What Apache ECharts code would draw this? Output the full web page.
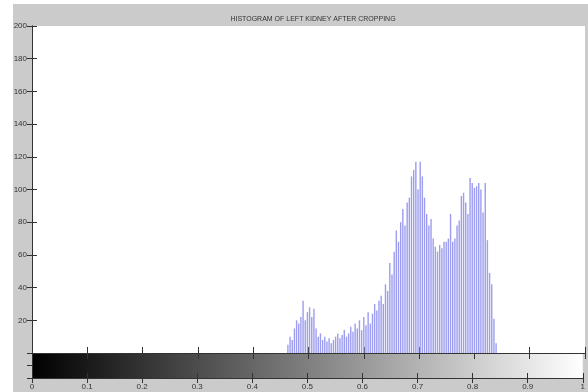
<!DOCTYPE html>
<html>
<head>
<meta charset="utf-8">
<script src="https://cdn.jsdelivr.net/npm/echarts@6/dist/echarts.min.js"></script>
<style>
html,body{margin:0;padding:0;background:#fff;}
#wrap{position:relative;width:588px;height:392px;background:#fff;}
#fig{position:absolute;left:13px;top:4px;right:0;bottom:0;background:#cbcbcb;}
#c{position:absolute;left:0;top:0;width:588px;height:392px;}
</style>
</head>
<body>
<div id="wrap"><div id="fig"></div><div id="c"></div></div>
<script>
// Histogram (imhist, 256 bins over 0..1): first non-empty bin index and counts
const titleText = 'HISTOGRAM OF LEFT KIDNEY AFTER CROPPING';
const binCount = 256;
const firstBin = 118;
const counts = [
  5, 10, 8, 15, 20, 18, 22, 32, 20, 25,
  28, 22, 27, 15, 10, 12, 8, 10, 7, 9,
  6, 8, 10, 12, 9, 11, 14, 10, 12, 16,
  13, 18, 15, 20, 14, 22, 17, 25, 18, 24,
  30, 26, 32, 35, 30, 42, 38, 55, 48, 62,
  75, 68, 80, 88, 78, 92, 95, 108, 112, 117,
  100, 117, 108, 95, 85, 78, 82, 70, 65, 62,
  66, 64, 68, 68, 70, 85, 68, 70, 78, 81,
  96, 98, 92, 85, 107, 104, 101, 102, 104, 100,
  86, 104, 69, 49, 42, 21, 6
];
const xTicks = [0, 0.1, 0.2, 0.3, 0.4, 0.5, 0.6, 0.7, 0.8, 0.9, 1];
const yTicks = [20, 40, 60, 80, 100, 120, 140, 160, 180, 200];

const histData = counts.map((v, k) => [(firstBin + k) / (binCount - 1), v]);

const chart = echarts.init(document.getElementById('c'), null, {renderer: 'canvas'});
const axisCol = '#333';
const lbl = {fontFamily: 'Liberation Sans Narrow, Arial Narrow, Liberation Sans, sans-serif', fontSize: 8, color: '#333'};
const xFmt = v => { const r = Math.round(v * 10) / 10; return xTicks.includes(r) ? String(r) : ''; };
const yFmt = v => yTicks.includes(v) ? String(v) : '';

chart.setOption({
  animation: false,
  backgroundColor: 'transparent',
  title: {
    text: titleText,
    left: 308, top: 11, textAlign: 'center',
    textStyle: {fontFamily: 'Liberation Sans Narrow, Arial Narrow, sans-serif', fontSize: 7, fontWeight: 'normal', color: '#333'}
  },
  grid: [
    {left: 32, right: 3, top: 26, height: 327, show: true, backgroundColor: '#fff', borderWidth: 0},
    {left: 32, right: 3, top: 353, height: 25, show: true, borderWidth: 0,
     backgroundColor: new echarts.graphic.LinearGradient(0, 0, 1, 0, [{offset: 0, color: '#000'}, {offset: 1, color: '#fff'}])}
  ],
  xAxis: [
    {gridIndex: 0, type: 'value', min: 0, max: 1, interval: 0.1, position: 'bottom',
     axisLine: {lineStyle: {color: axisCol}}, axisTick: {inside: true, length: 6, lineStyle: {color: axisCol}},
     axisLabel: {show: false}, splitLine: {show: false}},
    {gridIndex: 0, type: 'value', min: 0, max: 1, interval: 0.1, position: 'top',
     axisLine: {lineStyle: {color: axisCol}}, axisTick: {inside: true, length: 6, lineStyle: {color: axisCol}},
     axisLabel: {show: false}, splitLine: {show: false}},
    {gridIndex: 1, type: 'value', min: 0, max: 1, interval: 0.1, position: 'bottom',
     axisLine: {lineStyle: {color: axisCol}}, axisTick: {inside: true, length: 5, lineStyle: {color: axisCol}},
     axisLabel: Object.assign({margin: 5, formatter: xFmt}, lbl), splitLine: {show: false}},
    {gridIndex: 1, type: 'value', min: 0, max: 1, interval: 0.1, position: 'top',
     axisLine: {show: false}, axisTick: {inside: true, length: 5, lineStyle: {color: axisCol}},
     axisLabel: {show: false}, splitLine: {show: false}}
  ],
  yAxis: [
    {gridIndex: 0, type: 'value', min: 0, max: 200, interval: 20, position: 'left',
     axisLine: {show: true, lineStyle: {color: axisCol}}, axisTick: {show: true, inside: true, length: 5, lineStyle: {color: axisCol}},
     axisLabel: Object.assign({margin: 5, formatter: yFmt}, lbl), splitLine: {show: false}},
    {gridIndex: 0, type: 'value', min: 0, max: 200, interval: 20, position: 'right',
     axisLine: {show: true, lineStyle: {color: axisCol}}, axisTick: {show: true, inside: true, length: 5, lineStyle: {color: axisCol}},
     axisLabel: {show: false}, splitLine: {show: false}},
    {gridIndex: 1, type: 'value', min: 0, max: 2, interval: 1, position: 'left',
     axisLine: {show: true, lineStyle: {color: axisCol}}, axisTick: {show: false},
     axisLabel: {show: false}, splitLine: {show: false}},
    {gridIndex: 1, type: 'value', min: 0, max: 2, interval: 1, position: 'right',
     axisLine: {show: true, lineStyle: {color: axisCol}}, axisTick: {show: true, inside: true, length: 5, lineStyle: {color: axisCol}},
     axisLabel: {show: false}, splitLine: {show: false}}
  ],
  series: [{
    type: 'bar', xAxisIndex: 0, yAxisIndex: 0, barWidth: 1.4,
    itemStyle: {color: '#9c9cf0'}, silent: true,
    data: histData
  }]
});
</script>
</body>
</html>
